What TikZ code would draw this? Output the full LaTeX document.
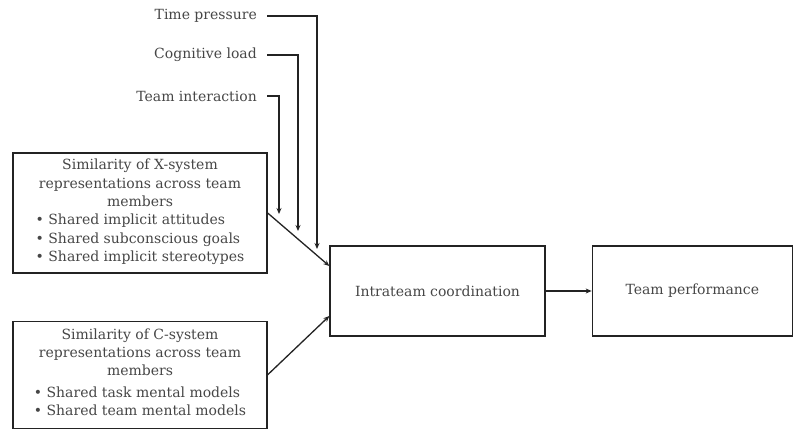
\documentclass[tikz,border=0pt]{standalone}
\usepackage{fontspec}
\setmainfont{DejaVu Serif}
\usetikzlibrary{arrows.meta,positioning,calc}
\definecolor{linegray}{RGB}{35,35,35}
\definecolor{textgray}{RGB}{70,70,70}

\begin{document}
\begin{tikzpicture}[x=1pt, y=1pt,
        every node/.style={font=\fontsize{14}{18.3}\selectfont, text=textgray},
        box/.style={rectangle, draw=linegray, line width=1.3pt, align=center, inner sep=2pt},
        factor/.style={anchor=east, inner sep=0pt},
        arrow/.style={-{Stealth[length=6pt, width=5pt]}, line width=1.3pt, linegray}
    ]
    \useasboundingbox (0,0) rectangle (795,-432);
    % left boxes
    \node[box, minimum width=254pt, minimum height=120pt] (xsys) at (140,-213) {Similarity of X-system\\representations across team\\members\\
        \begin{tabular}[t]{@{}l@{}}• Shared implicit attitudes\\• Shared subconscious goals\\• Shared implicit stereotypes\end{tabular}};
    \node[box, minimum width=254pt, minimum height=107pt, below=47pt of xsys] (csys) {Similarity of C-system\\representations across team\\members\\[3pt]
        \begin{tabular}[t]{@{}l@{}}• Shared task mental models\\• Shared team mental models\end{tabular}};
    % right boxes
    \node[box, minimum width=215pt, minimum height=90pt] (coord) at (437.5,-291) {Intrateam coordination};
    \node[box, minimum width=200pt, minimum height=90pt, right=46pt of coord] (perf) {Team performance};
    % moderators
    \node[factor] (tp) at (257,-16) {Time pressure};
    \node[factor] (cl) at (257,-55) {Cognitive load};
    \node[factor] (ti) at (257,-96) {Team interaction};
    \coordinate (tpend) at (317,-249);
    \coordinate (clend) at (298,-231);
    \coordinate (tiend) at (279,-214);
    \draw[arrow] ([xshift=10pt]tp.east) -| (tpend);
    \draw[arrow] ([xshift=10pt]cl.east) -| (clend);
    \draw[arrow] ([xshift=10pt]ti.east) -| (tiend);
    \draw[arrow] (xsys.east) -- ([yshift=25pt]coord.west);
    \draw[arrow] (csys.east) -- ([yshift=-25pt]coord.west);
    \draw[arrow] (coord) -- (perf);
\end{tikzpicture}
\end{document}
